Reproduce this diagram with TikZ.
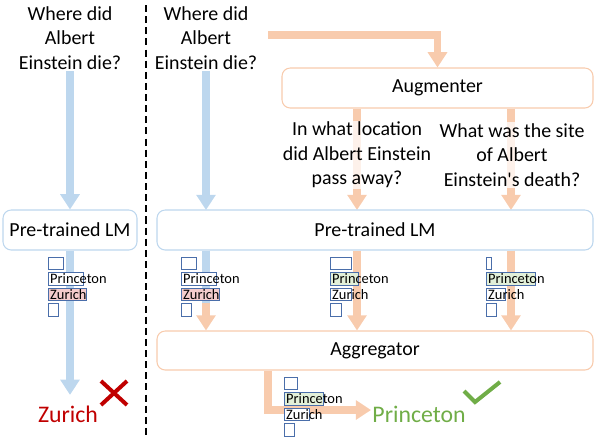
\documentclass[tikz,border=0pt]{standalone}
\usepackage{fontspec}
\setmainfont{Carlito}
\usetikzlibrary{arrows.meta}

\definecolor{lmblue}{HTML}{BDD7EE}
\definecolor{augorange}{HTML}{F8CBAD}
\definecolor{barblue}{HTML}{4A6EAA}
\definecolor{zurichpink}{HTML}{F4CCCC}
\definecolor{princegreen}{HTML}{E2F0D9}
\definecolor{okgreen}{HTML}{70AD47}
\definecolor{badred}{HTML}{C00000}

\begin{document}
\begin{tikzpicture}[x=0.03cm, y=-0.03cm,
    question/.style={align=center, font=\fontsize{17}{21}\selectfont, inner sep=1pt},
    model/.style={draw=#1, line width=0.9pt, rounded corners=7pt, fill=white, minimum height=1.2cm, font=\fontsize{17}{21}\selectfont},
    bluearr/.style={lmblue, line width=6pt, -{Triangle[width=16pt, length=13pt]}},
    orarr/.style={augorange, line width=6pt, -{Triangle[width=16pt, length=13pt]}},
    bar/.style={draw=barblue, line width=0.85pt, fill=white},
    token/.style={anchor=west, inner sep=0pt, font=\fontsize{12.3}{14}\selectfont},
    answer/.style={font=\fontsize{20.3}{24}\selectfont, inner sep=1pt}]
    \useasboundingbox (0,0) rectangle (598,439);

    % Preguntas
    \node[question] (q1) at (70,38) {Where did\\Albert\\Einstein die?};
    \node[question] (q2) at (206,38) {Where did\\Albert\\Einstein die?};

    % Separador
    \draw[black, line width=2.4pt, dash pattern=on 6pt off 3.5pt] (146,5) -- (146,436);

    % Modelos
    \node[model=lmblue, minimum width=4.02cm] (lm1) at (70,230) {Pre-trained LM};
    \node[model=augorange, minimum width=9.33cm] (aug) at (437.5,88) {Augmenter};
    \coordinate (augin) at (268,35);
    \coordinate (sw) at (206,303);
    \coordinate (outturn) at (268,410);

    % Respuestas
    \node[answer, text=badred] (ans1) at (68,414) {Zurich};
    \node[answer, text=okgreen] (ans2) at (419,414) {Princeton};

    % Flechas
    \draw[bluearr] (q1.south) -- (lm1.north);
    \draw[bluearr] (q2.south) -- (q2.south |- 0,210);
    \draw[orarr] (augin) -| (aug.north);
    \draw[orarr] (aug.south -| 357,0) -- (357,210);
    \draw[orarr] (aug.south -| 511,0) -- (511,210);
    \draw[bluearr, shorten >=8pt] (lm1.south) -- (lm1.south |- ans1.north);

    % Paráfrasis
    \node[question, fill=white, fill opacity=0.75, text opacity=1] (p1) at (357,155) {In what location\\did Albert Einstein\\pass away?};
    \node[question, fill=white, fill opacity=0.75, text opacity=1] (p2) at (512,155) {What was the site\\of Albert\\Einstein\textquotesingle s death?};

    \node[model=lmblue, minimum width=13.08cm] (lm2) at (375,230) {Pre-trained LM};
    \node[model=augorange, minimum width=13.08cm, minimum height=1.17cm] (agg) at (375,350.5) {Aggregator};

    \draw[lmblue, line width=6pt] (lm2.south -| sw) -- (sw);
    \draw[orarr] (sw) -- (agg.north -| sw);
    \draw[orarr] (lm2.south -| p1.south) -- (agg.north -| p1.south);
    \draw[orarr] (lm2.south -| 511,0) -- (agg.north -| 511,0);
    \draw[orarr] (agg.south -| outturn) -- (outturn) -- (outturn -| ans2.west);

    % Distribuciones
    \draw[bar] (48,257) rectangle (63,269);
    \draw[bar] (48,272) rectangle (83,285);
    \draw[bar, fill=zurichpink] (48,288) rectangle (86,300.5);
    \draw[bar] (48,303) rectangle (58,316);
    \node[token] (tokA1) at (50,279) {Princeton};
    \node[token] (tokA2) at (50,295) {Zurich};

    \draw[bar] (181,257) rectangle (196,269);
    \draw[bar] (181,272) rectangle (216,285);
    \draw[bar, fill=zurichpink] (181,288) rectangle (219,300.5);
    \draw[bar] (181,303) rectangle (191,316);
    \node[token] (tokB1) at (183,279) {Princeton};
    \node[token] (tokB2) at (183,295) {Zurich};

    \draw[bar] (330,257) rectangle (351,269);
    \draw[bar, fill=princegreen] (330,272) rectangle (358,285);
    \draw[bar] (330,288) rectangle (351,300.5);
    \draw[bar] (330,303) rectangle (341,316);
    \node[token] (tokC1) at (332,279) {Princeton};
    \node[token] (tokC2) at (332,295) {Zurich};

    \draw[bar] (486,257) rectangle (491,269);
    \draw[bar, fill=princegreen] (486,272) rectangle (535,285);
    \draw[bar] (486,288) rectangle (505,300.5);
    \draw[bar] (486,303) rectangle (496,316);
    \node[token] (tokD1) at (488,279) {Princeton};
    \node[token] (tokD2) at (488,295) {Zurich};

    \draw[bar] (284,377) rectangle (297,389);
    \draw[bar, fill=princegreen] (284,392) rectangle (323,405);
    \draw[bar] (284,408) rectangle (309,420.5);
    \draw[bar] (284,423) rectangle (294,436);
    \node[token] (tokE1) at (286,399) {Princeton};
    \node[token] (tokE2) at (286,415) {Zurich};

    % Marcas
    \draw[badred, line width=3.4pt] (101,381) -- (127,405);
    \draw[badred, line width=3.4pt] (127,381) -- (101,405);
    \draw[okgreen, line width=3.4pt] (464,391) -- (475,402) -- (500,382);
\end{tikzpicture}
\end{document}
